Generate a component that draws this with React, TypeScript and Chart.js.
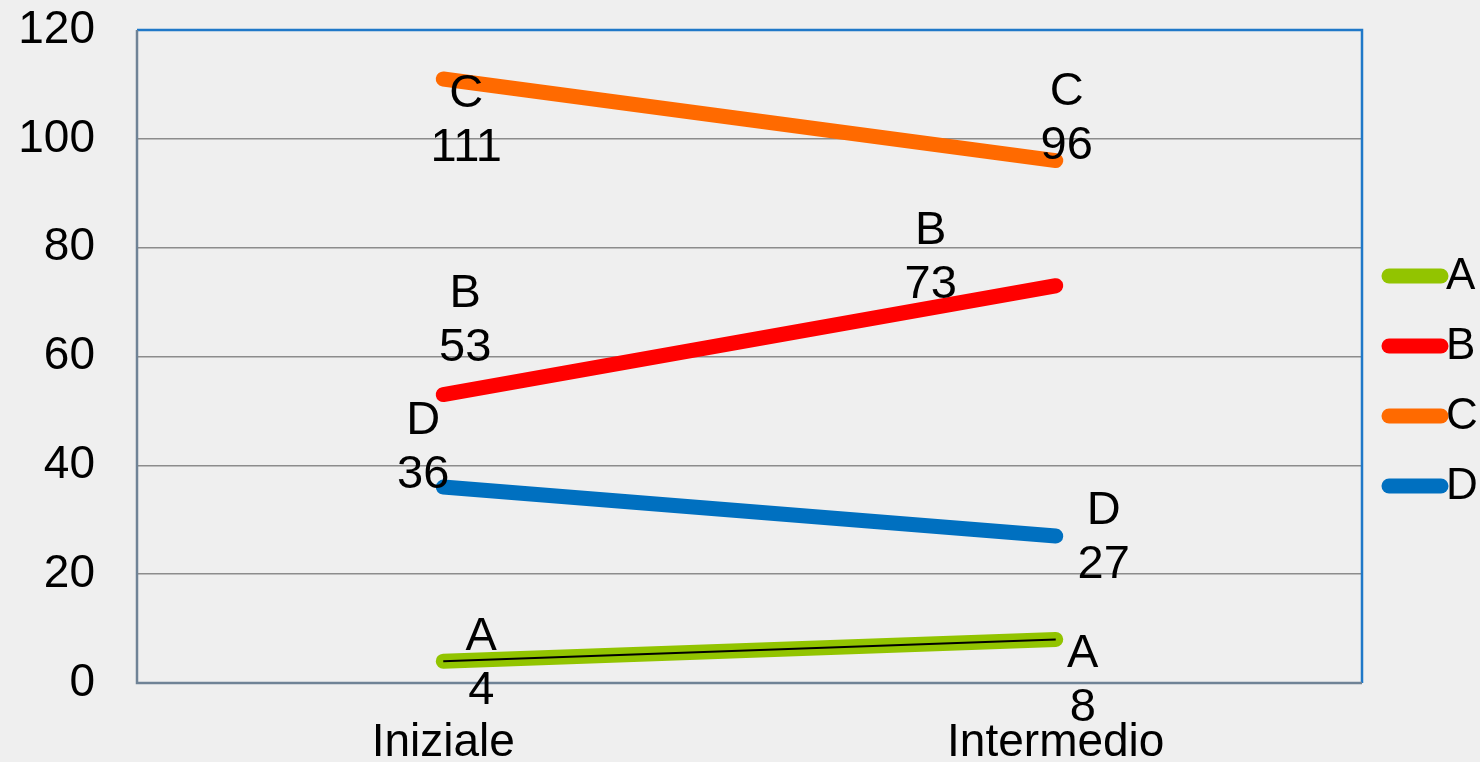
import React, { useEffect, useRef } from "react";
import { Chart, registerables } from "chart.js";

Chart.register(...registerables);

const categories = ["Iniziale", "Intermedio"];
const seriesNames = ["A", "B", "C", "D"];
const valuesA = [4, 8];
const valuesB = [53, 73];
const valuesC = [111, 96];
const valuesD = [36, 27];
const yTicks = [0, 20, 40, 60, 80, 100, 120];

const colors = ["#92c400", "#ff0000", "#ff6a00", "#0070c0"];
// label offsets (dx, dy of label centre relative to point) — styling only
const labelOffsets: Record<string, [number, number][]> = {
  A: [[38, 3], [27, 42]],
  B: [[22, -74], [-125, -28]],
  C: [[23, 42], [11, -42]],
  D: [[-20, -39], [48, 2]],
};

const FONT = "'Liberation Sans', Arial, sans-serif";

const framePlugin = {
  id: "frame",
  beforeDatasetsDraw(chart: any) {
    const { ctx, chartArea: a } = chart;
    ctx.save();
    ctx.lineWidth = 2.5;
    ctx.strokeStyle = "#1f78c8";
    ctx.beginPath();
    ctx.moveTo(a.left, a.top);
    ctx.lineTo(a.right, a.top);
    ctx.lineTo(a.right, a.bottom);
    ctx.stroke();
    ctx.strokeStyle = "#6f8396";
    ctx.beginPath();
    ctx.moveTo(a.left, a.top);
    ctx.lineTo(a.left, a.bottom);
    ctx.lineTo(a.right, a.bottom);
    ctx.stroke();
    ctx.restore();
  },
};

const labelPlugin = {
  id: "pointLabels",
  afterDatasetsDraw(chart: any) {
    const { ctx } = chart;
    ctx.save();
    ctx.fillStyle = "#000";
    ctx.textAlign = "center";
    ctx.textBaseline = "middle";
    ctx.font = `47px ${FONT}`;
    chart.data.datasets.forEach((ds: any, i: number) => {
      if (!ds.showLabels) return;
      const meta = chart.getDatasetMeta(i);
      meta.data.forEach((pt: any, j: number) => {
        const off = labelOffsets[ds.label][j];
        const x = pt.x + off[0];
        const y = pt.y + off[1];
        ctx.fillText(ds.label, x, y - 27);
        ctx.fillText(String(ds.data[j]), x, y + 27);
      });
    });
    ctx.restore();
  },
};

const legendPlugin = {
  id: "sideLegend",
  afterDraw(chart: any) {
    const { ctx } = chart;
    ctx.save();
    ctx.lineCap = "round";
    ctx.lineWidth = 15;
    ctx.font = `44px ${FONT}`;
    ctx.textBaseline = "middle";
    ctx.textAlign = "left";
    seriesNames.forEach((name, i) => {
      const y = 276 + i * 70;
      ctx.strokeStyle = colors[i];
      ctx.beginPath();
      ctx.moveTo(1389, y);
      ctx.lineTo(1441, y);
      ctx.stroke();
      ctx.fillStyle = "#000";
      ctx.fillText(name, 1446, y + 1);
    });
    ctx.restore();
  },
};

export default function App() {
  const ref = useRef<HTMLCanvasElement>(null);
  useEffect(() => {
    document.body.style.margin = "0";
    document.body.style.background = "#efefef";
    const all = [valuesA, valuesB, valuesC, valuesD];
    const datasets: any[] = seriesNames.map((name, i) => ({
      label: name,
      data: all[i],
      borderColor: colors[i],
      backgroundColor: colors[i],
      borderWidth: 15,
      borderCapStyle: "round",
      pointRadius: 0,
      showLabels: true,
      order: 2,
    }));
    datasets.push({
      label: "A-line",
      data: valuesA,
      borderColor: "#000000",
      borderWidth: 2,
      pointRadius: 0,
      showLabels: false,
      order: 1,
    });
    const chart = new Chart(ref.current!, {
      type: "line",
      data: { labels: categories, datasets },
      options: {
        animation: false,
        responsive: false,
        layout: { padding: { top: 30, right: 118, left: 0, bottom: 0 } },
        plugins: { legend: { display: false }, tooltip: { enabled: false } },
        scales: {
          x: {
            offset: true,
            grid: { display: false, offset: true },
            border: { display: false },
            ticks: {
              color: "#000",
              font: { family: FONT, size: 46 },
              padding: 25,
              maxRotation: 0,
            },
            afterFit(s: any) {
              s.height = 79;
              s.paddingLeft = 0;
              s.paddingRight = 0;
            },
          },
          y: {
            min: 0,
            max: 120,
            afterBuildTicks(s: any) {
              s.ticks = yTicks.map((v) => ({ value: v }));
            },
            grid: { color: "#8c8c8c", lineWidth: 1.5, drawTicks: false },
            border: { display: false },
            ticks: {
              color: "#000",
              font: { family: FONT, size: 46 },
              padding: 42,
            },
            afterFit(s: any) {
              s.width = 137;
              s.paddingTop = 0;
              s.paddingBottom = 0;
            },
          },
        },
      },
      plugins: [framePlugin, labelPlugin, legendPlugin],
    } as any);
    return () => chart.destroy();
  }, []);
  return (
    <div style={{ width: 1480, height: 762, background: "#efefef" }}>
      <canvas ref={ref} width={1480} height={762} style={{ display: "block" }} />
    </div>
  );
}
